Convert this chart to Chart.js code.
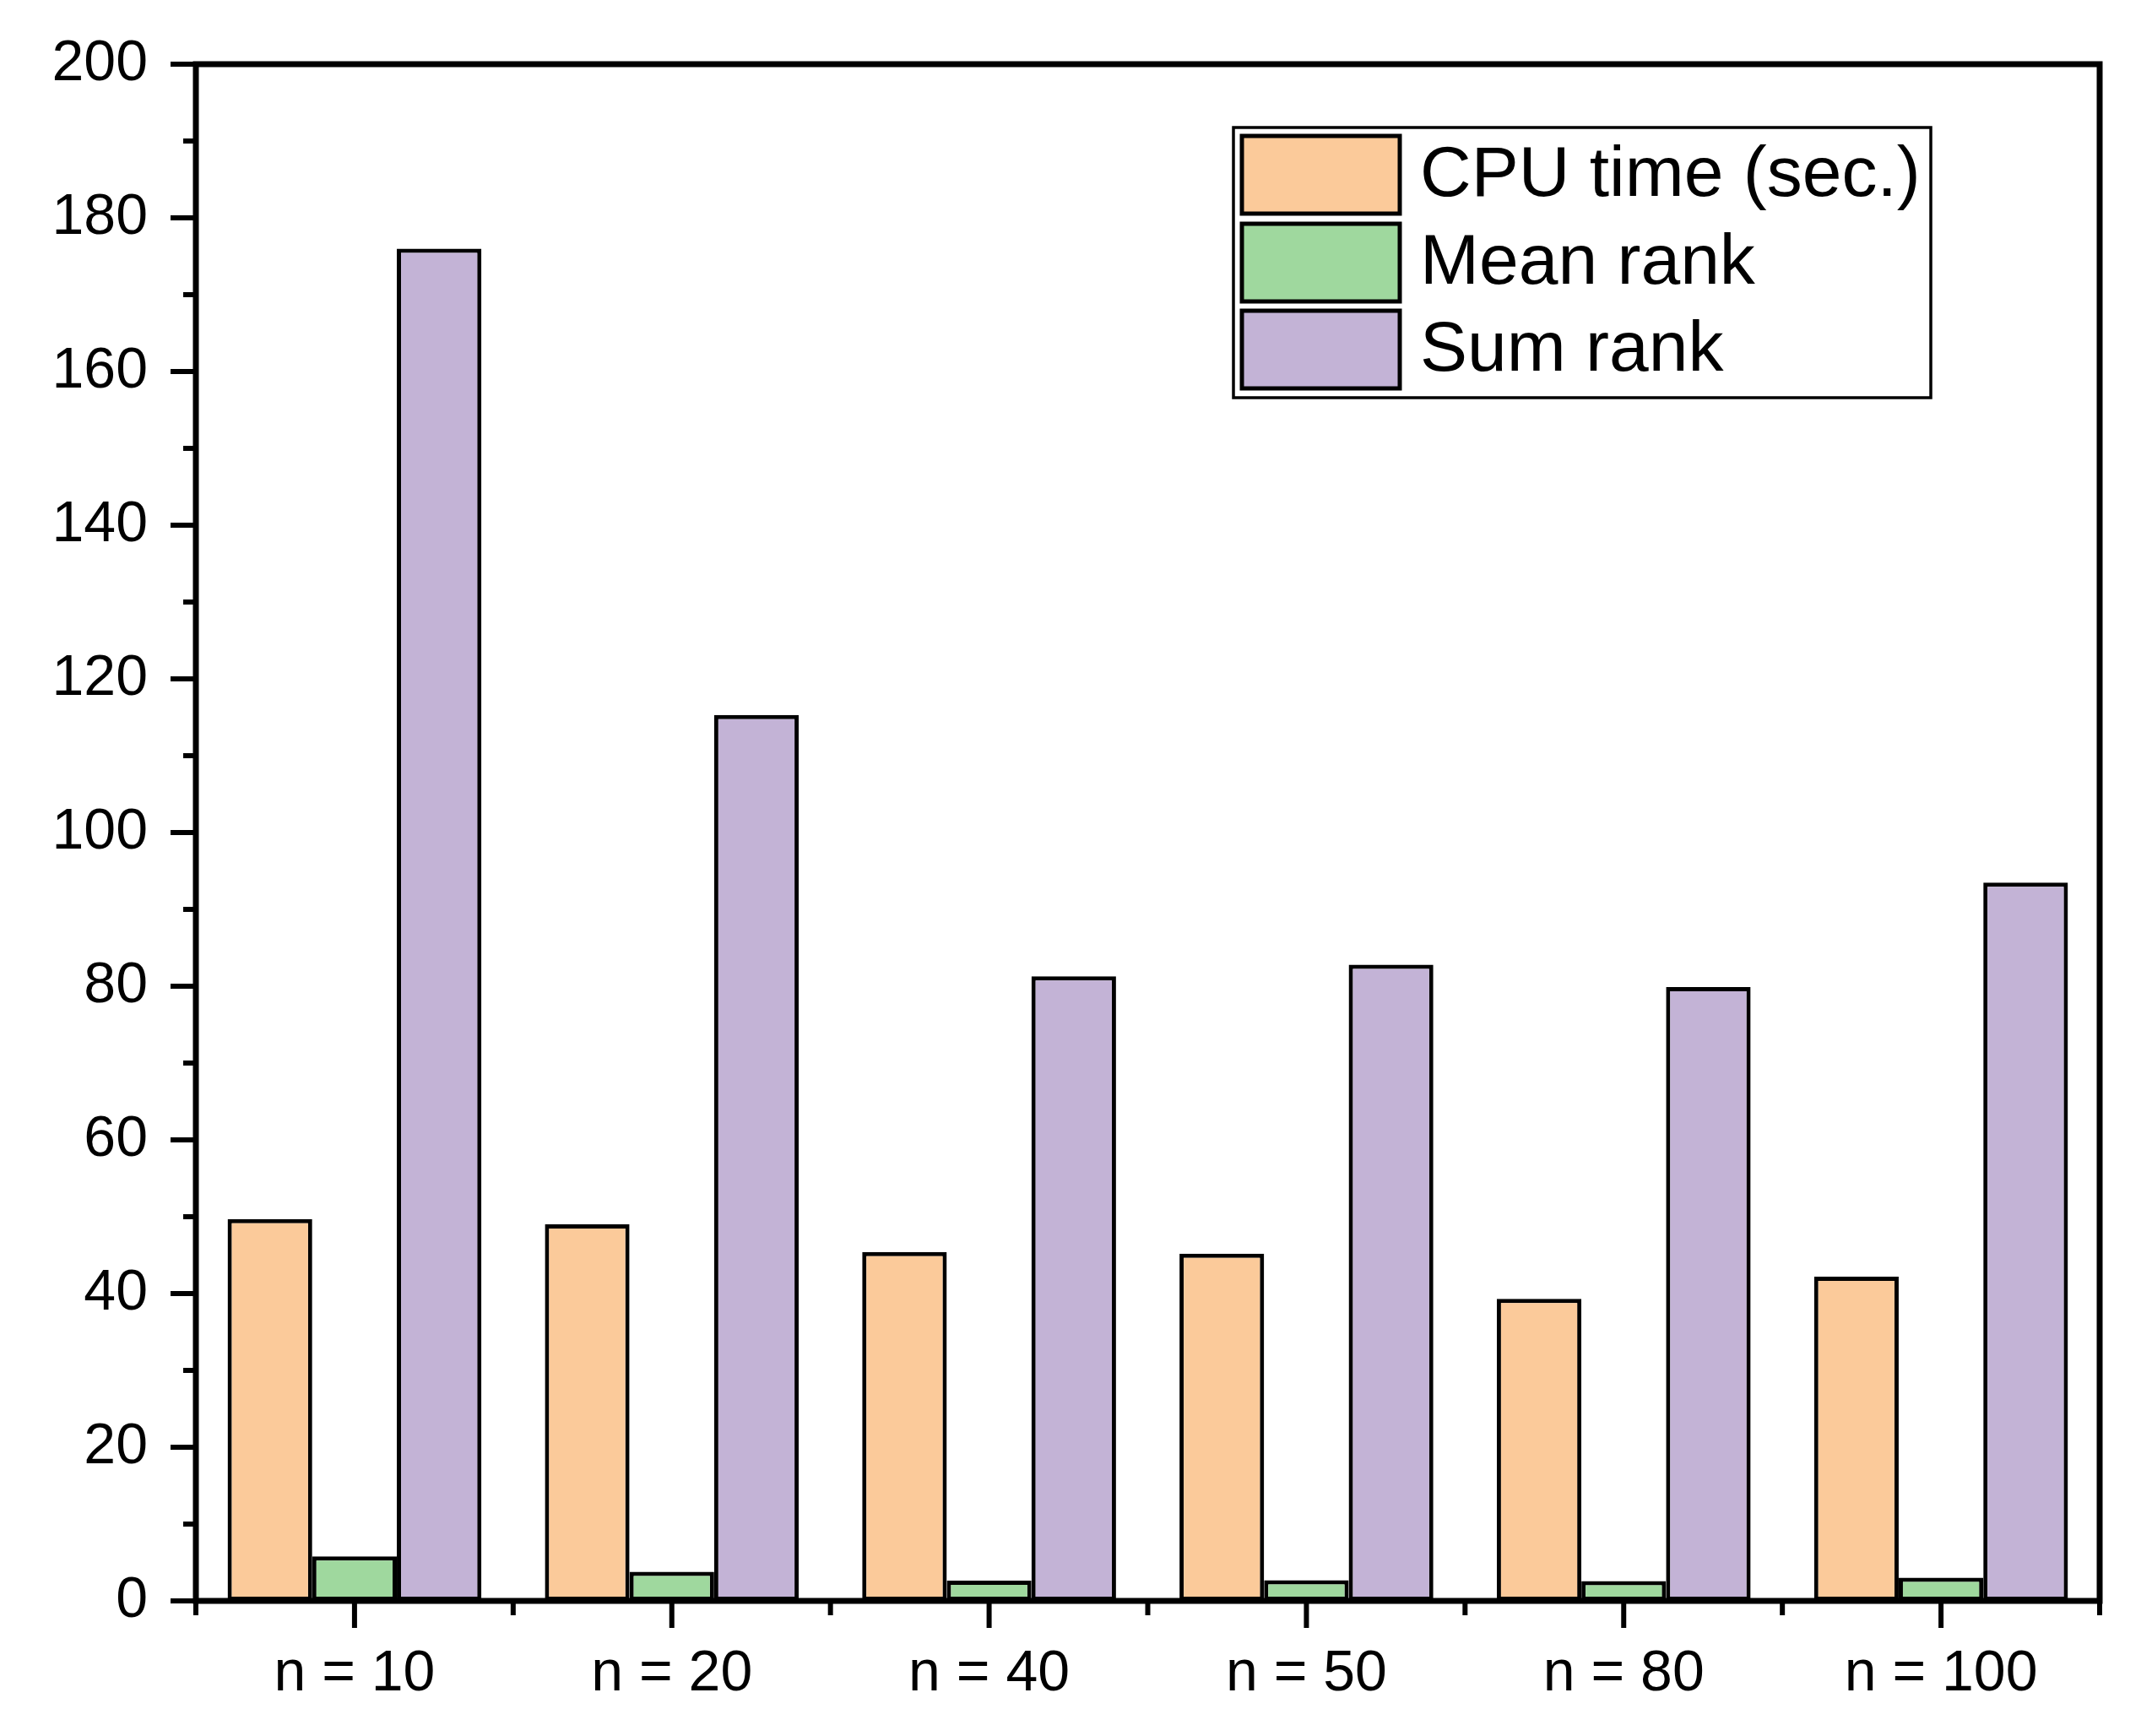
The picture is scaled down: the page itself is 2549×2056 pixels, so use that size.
<!DOCTYPE html>
<html>
<head>
<meta charset="utf-8">
<title>CPU time and ranks</title>
<script src="https://cdn.jsdelivr.net/npm/chart.js@4.4.1/dist/chart.umd.min.js"></script>
<style>
    html, body { margin: 0; padding: 0; background: #fff; }
    canvas { display: block; }
</style>
</head>
<body>
<canvas id="rankChart" width="2549" height="2056"></canvas>
<script>
// Data
const categories = ['n = 10', 'n = 20', 'n = 40', 'n = 50', 'n = 80', 'n = 100'];
const cpuTime = [49.7, 49.0, 45.4, 45.2, 39.3, 42.2];
const meanRank = [5.8, 3.8, 2.64, 2.69, 2.58, 3.02];
const sumRank = [176.0, 115.3, 81.3, 82.8, 79.9, 93.5];
const seriesNames = ['CPU time (sec.)', 'Mean rank', 'Sum rank'];
const yTicks = [0, 20, 40, 60, 80, 100, 120, 140, 160, 180, 200];

const FONT = '"Liberation Sans", Arial, sans-serif';
const colors = ['#FBCA9A', '#9FD89E', '#C3B3D6'];

// Frame, tick marks (major + minor) and the boxed legend
const frameAndLegend = {
    id: 'frameAndLegend',
    afterDraw(chart) {
        const ctx = chart.ctx;
        const area = chart.chartArea;
        const x = chart.scales.x;
        const y = chart.scales.y;
        ctx.save();
        ctx.strokeStyle = '#000';
        ctx.lineCap = 'butt';

        // axis frame
        ctx.lineWidth = 7;
        ctx.strokeRect(area.left, area.top, area.right - area.left, area.bottom - area.top);

        // y ticks: major every 20, minor every 10
        ctx.lineWidth = 6;
        for (let v = 0; v <= 200; v += 10) {
            const py = y.getPixelForValue(v);
            const len = v % 20 === 0 ? 30 : 15;
            ctx.beginPath();
            ctx.moveTo(area.left - len, py);
            ctx.lineTo(area.left, py);
            ctx.stroke();
        }

        // x ticks: major at categories, minor on the boundaries
        for (let i = 0; i < categories.length; i++) {
            const px = x.getPixelForValue(i);
            ctx.beginPath();
            ctx.moveTo(px, area.bottom);
            ctx.lineTo(px, area.bottom + 32);
            ctx.stroke();
        }
        for (let i = 0; i <= categories.length; i++) {
            let px;
            if (i === 0) px = area.left;
            else if (i === categories.length) px = area.right;
            else px = (x.getPixelForValue(i - 1) + x.getPixelForValue(i)) / 2;
            ctx.beginPath();
            ctx.moveTo(px, area.bottom);
            ctx.lineTo(px, area.bottom + 17);
            ctx.stroke();
        }

        // legend
        const box = { left: 1461, top: 151, right: 2287, bottom: 471 };
        ctx.lineWidth = 3.5;
        ctx.strokeRect(box.left, box.top, box.right - box.left, box.bottom - box.top);
        const rows = [161, 265, 368];
        ctx.font = '84px ' + FONT;
        ctx.textBaseline = 'middle';
        ctx.textAlign = 'left';
        chart.data.datasets.forEach((ds, i) => {
            const top = rows[i];
            ctx.fillStyle = ds.backgroundColor;
            ctx.fillRect(1471, top, 187, 92);
            ctx.lineWidth = 5;
            ctx.strokeRect(1471, top, 187, 92);
            ctx.fillStyle = '#000';
            ctx.fillText(ds.label, 1682, top + 48);
        });
        ctx.restore();
    }
};

const ctx = document.getElementById('rankChart').getContext('2d');
new Chart(ctx, {
    type: 'bar',
    data: {
        labels: categories,
        datasets: [
            { label: seriesNames[0], data: cpuTime, backgroundColor: colors[0] },
            { label: seriesNames[1], data: meanRank, backgroundColor: colors[1] },
            { label: seriesNames[2], data: sumRank, backgroundColor: colors[2] }
        ].map(ds => Object.assign(ds, {
            borderColor: '#000',
            borderWidth: 5,
            borderSkipped: false,
            categoryPercentage: 0.8,
            barPercentage: 1.0
        }))
    },
    options: {
        responsive: false,
        animation: false,
        devicePixelRatio: 1,
        layout: {
            padding: { left: 0, top: 76, right: 62, bottom: 0 }
        },
        plugins: {
            legend: { display: false },
            tooltip: { enabled: false }
        },
        scales: {
            x: {
                grid: { display: false, drawTicks: false },
                border: { display: false },
                ticks: {
                    color: '#000',
                    padding: 46,
                    font: { family: FONT, size: 68 }
                },
                afterFit(scale) {
                    scale.height = 160;
                    scale.paddingLeft = 0;
                    scale.paddingRight = 0;
                }
            },
            y: {
                min: 0,
                max: 200,
                grid: { display: false, drawTicks: false },
                border: { display: false },
                afterBuildTicks(scale) {
                    scale.ticks = yTicks.map(v => ({ value: v }));
                },
                ticks: {
                    color: '#000',
                    padding: 57,
                    font: { family: FONT, size: 68 }
                },
                afterFit(scale) {
                    scale.width = 232;
                    scale.paddingTop = 0;
                    scale.paddingBottom = 0;
                }
            }
        }
    },
    plugins: [frameAndLegend]
});
</script>
</body>
</html>
